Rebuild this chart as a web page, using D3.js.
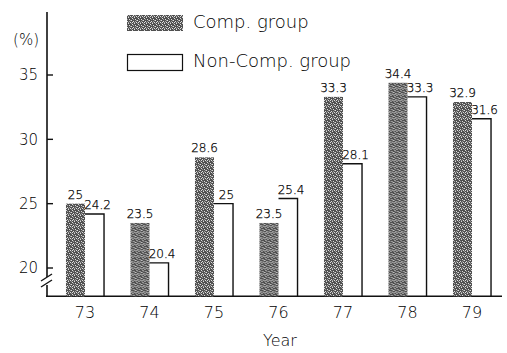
<!DOCTYPE html>
<html>
<head>
<meta charset="utf-8">
<script src="https://cdn.jsdelivr.net/npm/d3@7"></script>
<style>
  html, body { margin: 0; padding: 0; background: #fff; }
  svg text { font-family: "DejaVu Sans", sans-serif; font-weight: 200; fill: #000; }
  svg text.val { font-weight: 200; fill: #000; stroke: #000; stroke-width: 0.25px; }
</style>
</head>
<body>
<svg id="chart" width="507" height="353"></svg>
<script>
const years = ["73", "74", "75", "76", "77", "78", "79"];
const compValues = [25, 23.5, 28.6, 23.5, 33.3, 34.4, 32.9];
const nonCompValues = [24.2, 20.4, 25, 25.4, 28.1, 33.3, 31.6];
const compLabels = ["25", "23.5", "28.6", "23.5", "33.3", "34.4", "32.9"];
const nonCompLabels = ["24.2", "20.4", "25", "25.4", "28.1", "33.3", "31.6"];
const yTicks = [20, 25, 30, 35];
const seriesNames = ["Comp. group", "Non-Comp. group"];
const yUnit = "(%)";
const xTitle = "Year";
const axisFloor = 17.8;

const svg = d3.select("#chart");

const x = d3.scaleBand().domain(years).range([52.75, 504.25]).paddingInner(0.41).paddingOuter(0.205);
const xs = d3.scaleBand().domain(["comp", "non"]).range([0, x.bandwidth()]);
const y = d3.scaleLinear().domain([20, 35]).range([268, 75]);
const axisX = 47;
const baseY = y(axisFloor);

// texture pattern for the shaded bars
const defs = svg.append("defs");
const pat = defs.append("pattern").attr("id", "shade").attr("patternUnits", "userSpaceOnUse")
  .attr("width", 6).attr("height", 6);
pat.append("rect").attr("width", 6).attr("height", 6).attr("fill", "#505050");
const dots = [[0,0],[3,1],[1,3],[4,4],[2,5],[5,2],[0,4]];
pat.selectAll("rect.d").data(dots).enter().append("rect").attr("class", "d")
  .attr("x", d => d[0]).attr("y", d => d[1]).attr("width", 1).attr("height", 1).attr("fill", "#e0e0e0");
const pat2dots = [[1,1],[4,2],[2,4],[5,5],[3,3]];
pat.selectAll("rect.e").data(pat2dots).enter().append("rect").attr("class", "e")
  .attr("x", d => d[0]).attr("y", d => d[1]).attr("width", 1).attr("height", 1).attr("fill", "#999");

// Y axis (with break)
const yAxisG = svg.append("g").attr("transform", `translate(${axisX},0)`);
yAxisG.append("line").attr("x1", 0).attr("x2", 0).attr("y1", 12).attr("y2", 277)
  .attr("stroke", "#111").attr("stroke-width", 1.6);
yAxisG.append("line").attr("x1", 0).attr("x2", 0).attr("y1", 285).attr("y2", baseY)
  .attr("stroke", "#111").attr("stroke-width", 1.6);
yAxisG.append("line").attr("x1", -6).attr("x2", 5).attr("y1", 281).attr("y2", 274)
  .attr("stroke", "#111").attr("stroke-width", 1.4);
yAxisG.append("line").attr("x1", -6).attr("x2", 5).attr("y1", 287).attr("y2", 280)
  .attr("stroke", "#111").attr("stroke-width", 1.4);

const ticksG = yAxisG.selectAll("g.tick").data(yTicks).enter().append("g")
  .attr("transform", d => `translate(0,${y(d)})`);
ticksG.append("line").attr("x1", 0).attr("x2", 6).attr("stroke", "#111").attr("stroke-width", 1.4);
ticksG.append("text").attr("x", -9).attr("dy", "0.36em").attr("text-anchor", "end")
  .style("font-size", "15px").text(d => d);
svg.append("text").attr("x", 39).attr("y", 45).attr("text-anchor", "end")
  .style("font-size", "15px").text(yUnit);

// X axis baseline
svg.append("line").attr("x1", axisX - 1).attr("x2", 502).attr("y1", baseY).attr("y2", baseY)
  .attr("stroke", "#111").attr("stroke-width", 1.6);

// bars
const groups = svg.selectAll("g.grp").data(years).enter().append("g")
  .attr("transform", d => `translate(${x(d)},0)`);

groups.append("rect")
  .attr("x", xs("comp")).attr("width", xs.bandwidth())
  .attr("y", (d, i) => y(compValues[i])).attr("height", (d, i) => baseY - y(compValues[i]))
  .attr("fill", "url(#shade)");

groups.append("path")
  .attr("d", (d, i) => {
    const x0 = xs("non"), x1 = xs("non") + xs.bandwidth(), yt = y(nonCompValues[i]);
    return `M${x0},${yt}H${x1}V${baseY}`;
  })
  .attr("fill", "none").attr("stroke", "#111").attr("stroke-width", 1.4);

groups.append("text").attr("class", "val")
  .attr("x", xs("comp") + xs.bandwidth() / 2).attr("y", (d, i) => y(compValues[i]) - 5)
  .attr("text-anchor", "middle").style("font-size", "12px").text((d, i) => compLabels[i]);
groups.append("text").attr("class", "val")
  .attr("x", xs("non") + xs.bandwidth() / 2 + 3).attr("y", (d, i) => y(nonCompValues[i]) - 5)
  .attr("text-anchor", "middle").style("font-size", "12px").text((d, i) => nonCompLabels[i]);

// x labels
svg.selectAll("text.xl").data(years).enter().append("text").attr("class", "xl")
  .attr("x", d => x(d) + x.bandwidth() / 2).attr("y", 318)
  .attr("text-anchor", "middle").style("font-size", "16px").text(d => d);
svg.append("text").attr("x", 280).attr("y", 346).attr("text-anchor", "middle")
  .style("font-size", "16px").text(xTitle);

// legend
const legend = svg.append("g");
legend.append("rect").attr("x", 127).attr("y", 15).attr("width", 56).attr("height", 16)
  .attr("fill", "url(#shade)");
legend.append("rect").attr("x", 127.5).attr("y", 54.5).attr("width", 55).attr("height", 16)
  .attr("fill", "#fff").attr("stroke", "#111").attr("stroke-width", 1.2);
legend.selectAll("text.lg").data(seriesNames).enter().append("text").attr("class", "lg")
  .attr("x", 193).attr("y", (d, i) => 28 + i * 39)
  .style("font-size", "18px").text(d => d);
</script>
</body>
</html>
